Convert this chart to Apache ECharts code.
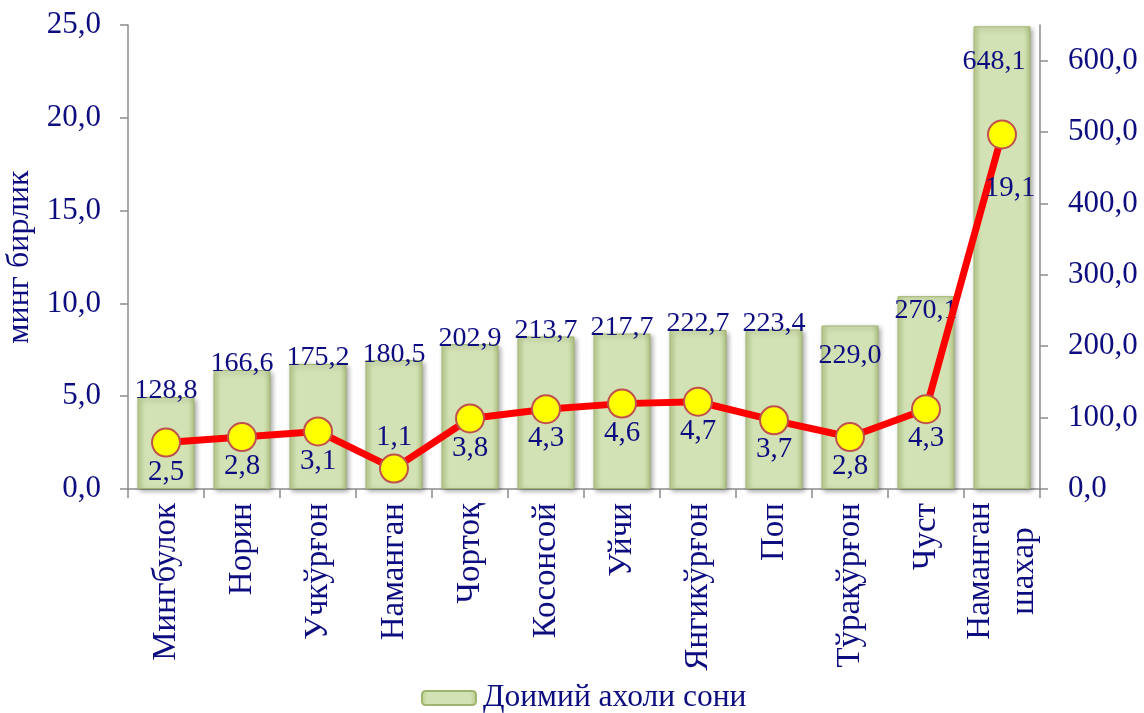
<!DOCTYPE html>
<html>
<head>
<meta charset="utf-8">
<script src="https://cdn.jsdelivr.net/npm/echarts@6/dist/echarts.min.js"></script>
<style>
  html, body { margin: 0; padding: 0; background: #fff; }
  #chart { width: 1144px; height: 713px; }
</style>
</head>
<body>
<div id="chart"></div>
<script>
var districts = ['Мингбулок', 'Норин', 'Учкўрғон', 'Наманган', 'Чортоқ', 'Косонсой',
	'Уйчи', 'Янгикўрғон', 'Поп', 'Тўрақўрғон', 'Чуст', 'Наманган\nшахар'];
var population = [128.8, 166.6, 175.2, 180.5, 202.9, 213.7, 217.7, 222.7, 223.4, 229.0, 270.1, 648.1];
var units = [2.5, 2.8, 3.1, 1.1, 3.8, 4.3, 4.6, 4.7, 3.7, 2.8, 4.3, 19.1];
var leftTicks = { min: 0, max: 25, step: 5 };
var rightTicks = { min: 0, max: 650, step: 100 };

var navy = '#0d0d80';
var font = "'Liberation Serif', 'Times New Roman', serif";

function fmt(v) {
	return Number(v).toFixed(1).replace('.', ',');
}

// labels that Excel pushed inside the bar top
var barLabelOffset = { 9: 30, 10: 14, 11: 35 };

var barData = population.map(function (v, i) {
	var off = barLabelOffset[i];
	return off === undefined ? v : {
		value: v,
		label: { position: 'insideTop', distance: 0, offset: [i === 11 ? -8 : 0, off - 14] }
	};
});

var lineData = units.map(function (v, i) {
	if (i === 3) return { value: v, label: { position: 'top', distance: 2 } };
	if (i === 11) return { value: v, label: { distance: 24, offset: [8, 0] } };
	return v;
});

var myChart = echarts.init(document.getElementById('chart'));
var option = {
	animation: false,
	textStyle: { fontFamily: font },
	grid: {
		left: 128,
		right: 104,
		top: 25,
		bottom: 224,
		outerBoundsMode: 'none',
		containLabel: false
	},
	legend: {
		top: 677,
		left: 416,
		data: ['Доимий ахоли сони'],
		itemWidth: 54,
		itemHeight: 14,
		itemGap: 8,
		textStyle: { color: navy, fontSize: 31.5, fontFamily: font, padding: [0, 0, 0, 2] }
	},
	xAxis: {
		type: 'category',
		data: districts,
		axisLine: { lineStyle: { color: '#8c8c8c', width: 1.5 } },
		axisTick: { show: true, length: 9, lineStyle: { color: '#8c8c8c', width: 1.5 } },
		axisLabel: {
			rotate: 90,
			interval: 0,
			margin: 14,
			color: navy,
			fontSize: 33,
			lineHeight: 44,
			fontFamily: font,
			formatter: function (v) {
				if (v.indexOf('\n') < 0) return v;
				return v.split('\n').map(function (s) { return '{c|' + s + '}'; }).join('\n');
			},
			rich: {
				c: { width: 136, align: 'center', fontSize: 33, lineHeight: 44, color: navy, fontFamily: font }
			}
		}
	},
	yAxis: [
		{
			type: 'value',
			min: leftTicks.min,
			max: leftTicks.max,
			interval: leftTicks.step,
			name: 'минг бирлик',
			nameLocation: 'middle',
			nameRotate: 90,
			nameGap: 92,
			nameTextStyle: { color: navy, fontSize: 32, fontFamily: font },
			splitLine: { show: false },
			axisLine: { show: true, lineStyle: { color: '#8c8c8c', width: 1.5 } },
			axisTick: { show: true, length: 8, lineStyle: { color: '#8c8c8c', width: 1.5 } },
			axisLabel: { color: navy, fontSize: 31, margin: 27, fontFamily: font, formatter: fmt }
		},
		{
			type: 'value',
			min: rightTicks.min,
			max: rightTicks.max,
			interval: rightTicks.step,
			splitLine: { show: false },
			axisLine: { show: true, lineStyle: { color: '#8c8c8c', width: 1.5 } },
			axisTick: { show: true, length: 8, lineStyle: { color: '#8c8c8c', width: 1.5 } },
			axisLabel: {
				color: navy, fontSize: 31, margin: 28, fontFamily: font, showMaxLabel: false,
				formatter: function (v) { return v > 600 ? '' : fmt(v); }
			}
		}
	],
	series: [
		{
			name: 'Доимий ахоли сони',
			type: 'bar',
			yAxisIndex: 1,
			barWidth: 57,
			data: barData,
			itemStyle: {
				color: new echarts.graphic.LinearGradient(0, 0, 1, 0, [
					{ offset: 0, color: '#bdd090' },
					{ offset: 0.12, color: '#d3e2b4' },
					{ offset: 0.88, color: '#d3e2b4' },
					{ offset: 1, color: '#b3c785' }
				]),
				borderColor: '#9fb46e',
				borderWidth: 1,
				shadowColor: 'rgba(0,0,0,0.35)',
				shadowBlur: 5,
				shadowOffsetX: 2,
				shadowOffsetY: 2
			},
			label: {
				show: true,
				position: 'top',
				distance: -8,
				color: navy,
				fontSize: 28,
				fontFamily: font,
				formatter: function (p) { return fmt(p.value); }
			}
		},
		{
			name: 'units',
			type: 'line',
			yAxisIndex: 0,
			data: lineData,
			symbol: 'circle',
			symbolSize: 28,
			z: 5,
			lineStyle: { color: '#ff0000', width: 7 },
			itemStyle: { color: '#ffff00', borderColor: '#c0504d', borderWidth: 2 },
			label: {
				show: true,
				position: 'bottom',
				distance: 0,
				color: navy,
				fontSize: 29,
				fontFamily: font,
				formatter: function (p) { return fmt(p.value); }
			}
		}
	]
};
myChart.setOption(option);
</script>
</body>
</html>
